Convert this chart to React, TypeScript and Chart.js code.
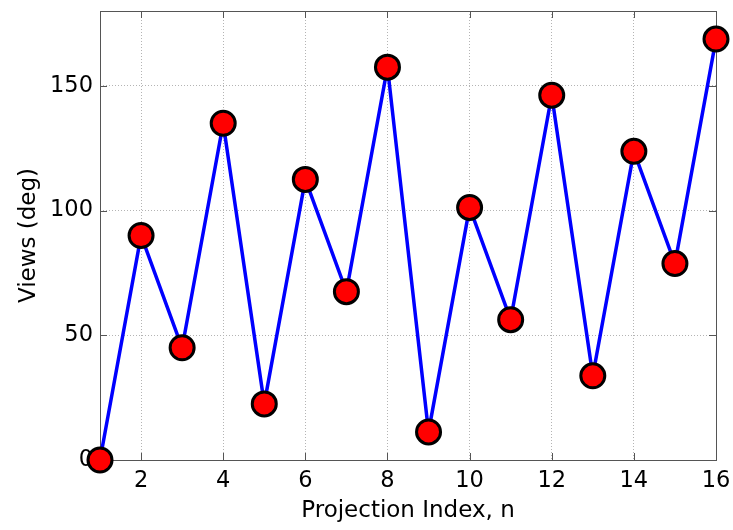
import React, { useEffect, useRef } from "react";
import { Chart, registerables } from "chart.js";

Chart.register(...registerables);

const projectionIndex = [1, 2, 3, 4, 5, 6, 7, 8, 9, 10, 11, 12, 13, 14, 15, 16];
const viewsDeg = [0, 90, 45, 135, 22.5, 112.5, 67.5, 157.5, 11.25, 101.25, 56.25, 146.25, 33.75, 123.75, 78.75, 168.75];
const xTicks = [2, 4, 6, 8, 10, 12, 14, 16];
const yTicks = [0, 50, 100, 150];
const xTitle = "Projection Index, n";
const yTitle = "Views (deg)";

const FONT = "'DejaVu Sans', 'Liberation Sans', Arial, sans-serif";

const framePlugin = {
  id: "matlabFrame",
  beforeDatasetsDraw(chart: any) {
    const { ctx, chartArea } = chart;
    const { left, top, right, bottom } = chartArea;
    const xs = chart.scales.x;
    const ys = chart.scales.y;
    const tl = 7;
    ctx.save();
    ctx.strokeStyle = "#555555";
    ctx.lineWidth = 1;
    ctx.setLineDash([]);
    ctx.beginPath();
    for (const v of xTicks) {
      const px = Math.round(xs.getPixelForValue(v)) + 0.5;
      ctx.moveTo(px, bottom);
      ctx.lineTo(px, bottom - tl);
      ctx.moveTo(px, top);
      ctx.lineTo(px, top + tl);
    }
    for (const v of yTicks) {
      const py = Math.round(ys.getPixelForValue(v)) + 0.5;
      ctx.moveTo(left, py);
      ctx.lineTo(left + tl, py);
      ctx.moveTo(right, py);
      ctx.lineTo(right - tl, py);
    }
    ctx.stroke();
    ctx.strokeRect(Math.round(left) + 0.5, Math.round(top) + 0.5, Math.round(right - left), Math.round(bottom - top));
    ctx.restore();
  },
};

export default function App() {
  const ref = useRef<HTMLCanvasElement | null>(null);
  useEffect(() => {
    document.body.style.margin = "0";
    const canvas = ref.current;
    if (!canvas) return;
    const chart = new Chart(canvas, {
      type: "line",
      data: {
        datasets: [
          {
            data: projectionIndex.map((x, i) => ({ x, y: viewsDeg[i] })),
            borderColor: "#0000ff",
            borderWidth: 3.5,
            pointRadius: 12,
            pointHoverRadius: 12,
            pointBackgroundColor: "#ff0000",
            pointBorderColor: "#000000",
            pointBorderWidth: 3,
            tension: 0,
            clip: false as any,
          },
        ],
      },
      options: {
        responsive: false,
        animation: false,
        layout: { autoPadding: false, padding: { top: 11, right: 17, bottom: 0, left: 0 } },
        plugins: { legend: { display: false }, tooltip: { enabled: false } },
        scales: {
          x: {
            type: "linear",
            min: 1,
            max: 16,
            afterBuildTicks: (s: any) => {
              s.ticks = xTicks.map((v) => ({ value: v }));
            },
            afterFit: (s: any) => {
              s.height = 70;
              s.paddingLeft = 0;
              s.paddingRight = 0;
              s.paddingTop = 0;
              s.paddingBottom = 0;
            },
            grid: { color: "#b4b4b4", lineWidth: 1, drawTicks: false },
            border: { display: false, dash: [1, 2] },
            ticks: {
              color: "#000000",
              padding: 8,
              maxRotation: 0,
              autoSkip: false,
              font: { family: FONT, size: 22.5 },
              callback: (v: any) => String(v),
            },
            title: {
              display: true,
              text: xTitle,
              color: "#000000",
              padding: { top: 0, bottom: 5 },
              font: { family: FONT, size: 23 },
            },
          },
          y: {
            type: "linear",
            min: 0,
            max: 180,
            afterBuildTicks: (s: any) => {
              s.ticks = yTicks.map((v) => ({ value: v }));
            },
            afterFit: (s: any) => {
              s.width = 100;
              s.paddingLeft = 0;
              s.paddingRight = 0;
              s.paddingTop = 0;
              s.paddingBottom = 0;
            },
            grid: { color: "#b4b4b4", lineWidth: 1, drawTicks: false },
            border: { display: false, dash: [1, 2] },
            ticks: {
              color: "#000000",
              padding: 7,
              autoSkip: false,
              font: { family: FONT, size: 22.5 },
              callback: (v: any) => String(v),
            },
            title: {
              display: true,
              text: yTitle,
              color: "#000000",
              padding: { top: 15, bottom: 0 },
              font: { family: FONT, size: 23 },
            },
          },
        },
      },
      plugins: [framePlugin],
    });
    return () => chart.destroy();
  }, []);
  return (
    <div style={{ position: "fixed", left: 0, top: 0, width: 733, height: 530, background: "#ffffff" }}>
      <canvas ref={ref} width={733} height={530} />
    </div>
  );
}
